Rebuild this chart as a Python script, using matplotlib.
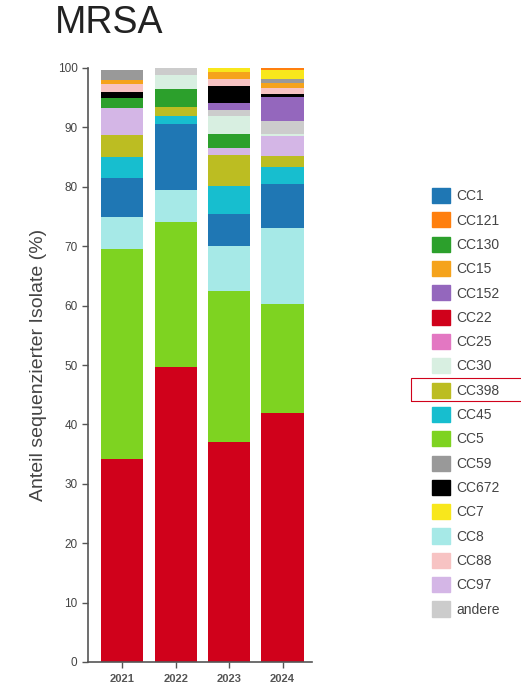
import matplotlib.pyplot as plt
import matplotlib.patches as mpatches
import numpy as np

plt.rcParams['font.family'] = ['Liberation Sans', 'DejaVu Sans']

years = ['2021', '2022', '2023', '2024']

# share of sequenced isolates (%), per clonal complex, one value per year
cc22 = [34.1, 49.6, 37.1, 42.0]
cc5 = [35.4, 24.4, 25.3, 18.2]
cc8 = [5.4, 5.5, 7.6, 12.8]
cc1 = [6.5, 11.0, 5.5, 7.4]
cc45 = [3.7, 1.4, 4.7, 2.9]
cc398 = [3.7, 1.6, 5.2, 1.9]
cc97 = [4.5, 0.0, 1.2, 3.4]
cc130 = [1.7, 2.9, 2.3, 0.0]
cc30 = [0.0, 2.4, 3.0, 0.3]
andere = [0.0, 1.2, 1.1, 2.2]
cc152 = [0.0, 0.0, 1.1, 4.0]
cc672 = [0.9, 0.0, 2.8, 0.5]
cc88 = [1.4, 0.0, 1.3, 1.1]
cc15 = [0.7, 0.0, 1.1, 0.8]
cc59 = [1.7, 0.0, 0.0, 0.6]
cc7 = [0.0, 0.0, 0.7, 1.5]
cc121 = [0.0, 0.0, 0.0, 0.4]
cc25 = [0.0, 0.0, 0.0, 0.0]

# stacking order, bottom to top
stack = [
    ('CC22', cc22), ('CC5', cc5), ('CC8', cc8), ('CC1', cc1), ('CC45', cc45),
    ('CC398', cc398), ('CC97', cc97), ('CC130', cc130), ('CC30', cc30),
    ('andere', andere), ('CC152', cc152), ('CC672', cc672), ('CC88', cc88),
    ('CC15', cc15), ('CC59', cc59), ('CC7', cc7), ('CC121', cc121), ('CC25', cc25),
]

legend_order = ['CC1', 'CC121', 'CC130', 'CC15', 'CC152', 'CC22', 'CC25', 'CC30',
                'CC398', 'CC45', 'CC5', 'CC59', 'CC672', 'CC7', 'CC8', 'CC88',
                'CC97', 'andere']

colors = {
    'CC1': '#1f77b4', 'CC121': '#ff7f0e', 'CC130': '#2ca02c', 'CC15': '#f5a31c',
    'CC152': '#9467bd', 'CC22': '#d0011b', 'CC25': '#e377c2', 'CC30': '#d8efe1',
    'CC398': '#bcbd22', 'CC45': '#17becf', 'CC5': '#7ed321', 'CC59': '#999999',
    'CC672': '#000000', 'CC7': '#f8e71c', 'CC8': '#a6e9e7', 'CC88': '#f7c3c3',
    'CC97': '#d4b6e6', 'andere': '#cccccc',
}

fig = plt.figure(figsize=(5.21, 6.91), dpi=100)
ax = fig.add_axes([88 / 521, 1 - 662 / 691, (312 - 88) / 521, (662 - 68) / 691])

x = np.arange(len(years))
bottom = np.zeros(len(years))
for name, vals in stack:
    vals = np.array(vals)
    ax.bar(x, vals, bottom=bottom, width=0.79, color=colors[name], linewidth=0)
    bottom += vals

ax.set_xlim(-0.64, 3.55)
ax.set_ylim(0, 100)
ax.set_yticks(np.arange(0, 101, 10))
ax.set_xticks(x)
ax.set_xticklabels(years, fontsize=8, fontweight='bold', color='#333333')
ax.tick_params(axis='y', labelsize=8.5, colors='#555555', labelcolor='#444444', length=4, width=1)
ax.tick_params(axis='x', colors='#555555', length=4, width=1, pad=5)
for s in ['top', 'right']:
    ax.spines[s].set_visible(False)
for s in ['left', 'bottom']:
    ax.spines[s].set_color('#555555')
    ax.spines[s].set_linewidth(1.2)

ax.set_ylabel('Anteil sequenzierter Isolate (%)', fontsize=14, color='#444444', labelpad=8)

fig.text(55 / 521, 1 - 33 / 691, 'MRSA', fontsize=27, color='#222222', va='baseline', ha='left')

leg_handles = [mpatches.Patch(color=colors[n]) for n in legend_order]
fig.legend(leg_handles, legend_order, loc='upper left',
           bbox_to_anchor=(432 / 521, 1 - 188 / 691), frameon=False,
           fontsize=10, handlelength=1.3, handleheight=1.3, labelspacing=0.655,
           handletextpad=0.45, borderpad=0, borderaxespad=0, labelcolor='#444444')

# red highlight box around CC398 entry
fig.patches.append(mpatches.Rectangle((411 / 521, 1 - 401 / 691), 0.25, 23 / 691,
                                      transform=fig.transFigure, fill=False,
                                      edgecolor='#d0021b', linewidth=0.8))

fig.savefig('out.png', dpi=100)
